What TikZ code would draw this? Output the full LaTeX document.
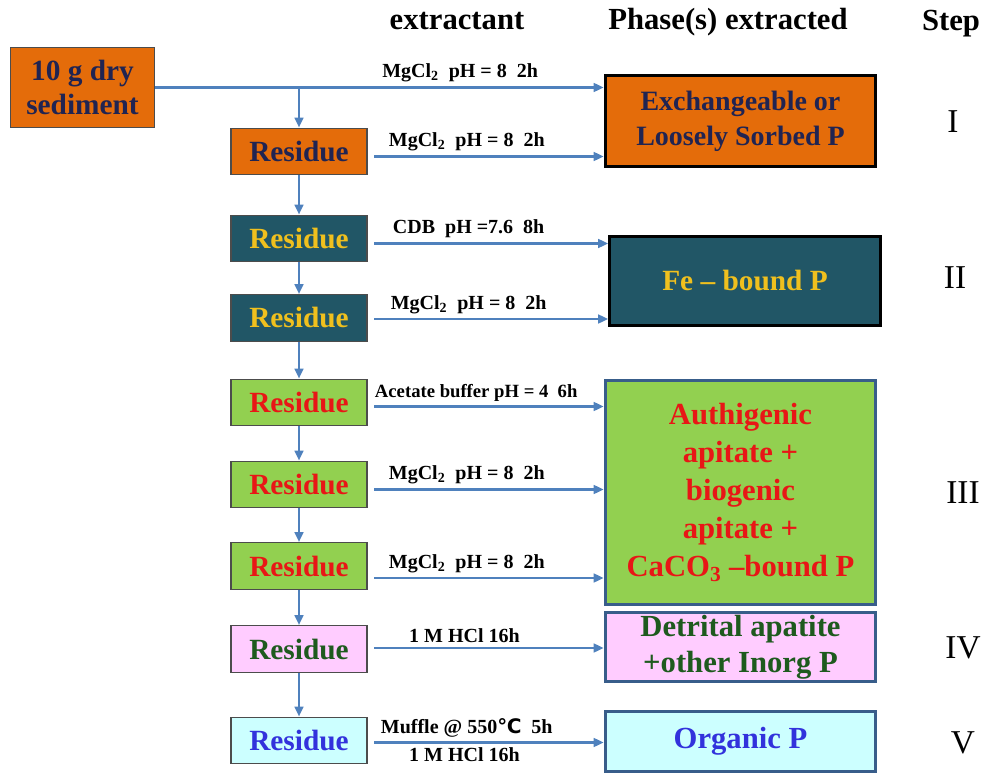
\documentclass[tikz,border=0pt]{standalone}
\usepackage{fontspec}
\setmainfont{Liberation Serif}
\newfontfamily\degfont{DejaVu Sans}
\usetikzlibrary{arrows.meta,positioning,calc}
\definecolor{orng}{RGB}{228,108,10}
\definecolor{navytxt}{RGB}{32,36,82}
\definecolor{teal}{RGB}{33,86,102}
\definecolor{gold}{RGB}{240,192,30}
\definecolor{grn}{RGB}{146,208,80}
\definecolor{redtxt}{RGB}{232,22,22}
\definecolor{pnk}{RGB}{255,204,255}
\definecolor{dgreen}{RGB}{30,90,30}
\definecolor{lcyan}{RGB}{204,255,255}
\definecolor{bluetxt}{RGB}{50,50,220}
\definecolor{arrowblue}{RGB}{79,129,189}
\definecolor{bordblue}{RGB}{56,93,138}

\begin{document}
\begin{tikzpicture}[x=0.75pt,y=-0.75pt,
		flow/.style={-{Triangle[length=7.5pt,width=6.5pt]},line width=2pt,draw=arrowblue},
		box/.style={draw,align=center,inner sep=2pt,font=\bfseries\fontsize{22}{27}\selectfont},
		residue/.style={box,minimum width=102pt,minimum height=35pt,line width=0.9pt,draw=black!70},
		phase/.style={box,minimum width=203pt,line width=2.2pt},
		lbl/.style={font=\bfseries\fontsize{15}{17}\selectfont,inner sep=3pt},
		head/.style={font=\bfseries\fontsize{23}{27}\selectfont},
		stepno/.style={font=\fontsize{25}{28}\selectfont}]
	\useasboundingbox (0,0) rectangle (983,774);
	% headers
	\node[head] (hextr) at (457,21) {extractant};
	\node[head] (hphase) at (728,22) {Phase(s) extracted};
	\node[head] (hstep) at (951,24) {Step};
	% sample and residues
	\node[residue,fill=orng,text=navytxt,minimum width=108pt,minimum height=60pt,
		font=\bfseries\fontsize{22}{25}\selectfont] (src) at (82.5,87.5) {10 g dry\\sediment};
	\node[residue,fill=orng,text=navytxt] (res1) at (299,151.5) {Residue};
	\node[residue,fill=teal,text=gold] (res2) at (299,238.5) {Residue};
	\node[residue,fill=teal,text=gold] (res3) at (299,318) {Residue};
	\node[residue,fill=grn,text=redtxt] (res4) at (299,402.5) {Residue};
	\node[residue,fill=grn,text=redtxt] (res5) at (299,484.5) {Residue};
	\node[residue,fill=grn,text=redtxt] (res6) at (299,566) {Residue};
	\node[residue,fill=pnk,text=dgreen] (res7) at (299,649) {Residue};
	\node[residue,fill=lcyan,text=bluetxt] (res8) at (299,740.5) {Residue};
	% extracted phases
	\node[phase,fill=orng,text=navytxt,minimum height=68pt,
		font=\bfseries\fontsize{21}{26}\selectfont] (exch) at (740.5,121) {Exchangeable or\\Loosely Sorbed P};
	\node[phase,fill=teal,text=gold,minimum height=67pt] (fe) at (745,281) {Fe -- bound P};
	\node[phase,fill=grn,text=redtxt,draw=bordblue,minimum height=168pt,
		font=\bfseries\fontsize{23}{28.5}\selectfont] (auth) at (740.5,492.5)
		{Authigenic\\apitate +\\biogenic\\apitate +\\CaCO\textsubscript{3} --bound P};
	\node[phase,fill=pnk,text=dgreen,draw=bordblue,minimum height=51pt,
		font=\bfseries\fontsize{23}{27}\selectfont] (detr) at (740.5,647) {Detrital apatite\\+other Inorg P};
	\node[phase,fill=lcyan,text=bluetxt,draw=bordblue,minimum height=45pt,
		font=\bfseries\fontsize{23}{27}\selectfont] (org) at (740.5,741.5) {Organic P};
	% steps
	\node[stepno] (s1) at (953,122) {I};
	\node[stepno] (s2) at (955,278) {II};
	\node[stepno] (s3) at (963,493) {III};
	\node[stepno] (s4) at (963,648) {IV};
	\node[stepno] (s5) at (963,743) {V};
	% connectors
	\draw[flow] (src.east) -- (src.east -| exch.west)
		node[lbl,above,pos=.68] {MgCl\textsubscript{2}\enspace pH = 8\enspace2h};
	\draw[flow] (res1.north |- src.east) -- (res1.north);
	\foreach \a/\b in {res1/res2,res2/res3,res3/res4,res4/res5,res5/res6,res6/res7,res7/res8}
		\draw[flow] (\a.south) -- (\b.north);
	\foreach \r/\p/\d/\q/\t in {res1/exch/5/.42/{MgCl\textsubscript{2}\enspace pH = 8\enspace2h},
			res2/fe/5/.42/{CDB\enspace pH =7.6\enspace 8h},
			res3/fe/1/.42/{MgCl\textsubscript{2}\enspace pH = 8\enspace2h},
			res4/auth/4/.46/{\fontsize{14}{16}\selectfont Acetate buffer pH = 4\enspace6h},
			res5/auth/5/.42/{MgCl\textsubscript{2}\enspace pH = 8\enspace2h},
			res6/auth/12/.42/{MgCl\textsubscript{2}\enspace pH = 8\enspace2h},
			res7/detr/-1/.41/{1 M HCl 16h}}{
		\path ($(\r.east)+(0,\d)$) coordinate (\r a);
		\draw[flow,shorten <=5pt] (\r a) -- (\r a -| \p.west) node[lbl,above,pos=\q] {\t};
	}
	\path ($(res8.east)+(0,2)$) coordinate (res8a);
	\draw[flow,shorten <=5pt] (res8a) -- (res8a -| org.west)
		node[lbl,above,pos=.42] {Muffle @ 550{\degfont ℃}\enspace5h}
		node[lbl,below,pos=.41] {1 M HCl 16h};
\end{tikzpicture}
\end{document}
